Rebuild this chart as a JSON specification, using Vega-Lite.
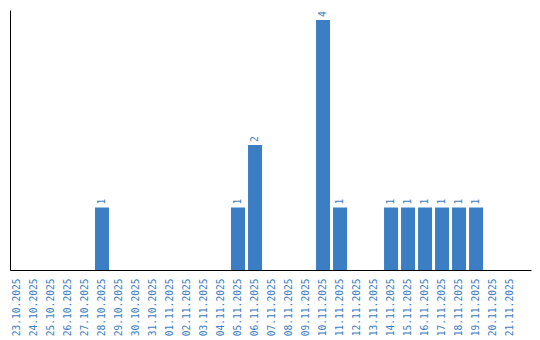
{
  "$schema": "https://vega.github.io/schema/vega-lite/v6.json",
  "width": 521,
  "height": 260,
  "autosize": {"type": "none"},
  "padding": {"left": 10, "top": 10, "right": 9, "bottom": 70},
  "background": "white",
  "config": {"view": {"stroke": null}},
  "data": {"values": [
    {"date": "23.10.2025", "count": 0},
    {"date": "24.10.2025", "count": 0},
    {"date": "25.10.2025", "count": 0},
    {"date": "26.10.2025", "count": 0},
    {"date": "27.10.2025", "count": 0},
    {"date": "28.10.2025", "count": 1},
    {"date": "29.10.2025", "count": 0},
    {"date": "30.10.2025", "count": 0},
    {"date": "31.10.2025", "count": 0},
    {"date": "01.11.2025", "count": 0},
    {"date": "02.11.2025", "count": 0},
    {"date": "03.11.2025", "count": 0},
    {"date": "04.11.2025", "count": 0},
    {"date": "05.11.2025", "count": 1},
    {"date": "06.11.2025", "count": 2},
    {"date": "07.11.2025", "count": 0},
    {"date": "08.11.2025", "count": 0},
    {"date": "09.11.2025", "count": 0},
    {"date": "10.11.2025", "count": 4},
    {"date": "11.11.2025", "count": 1},
    {"date": "12.11.2025", "count": 0},
    {"date": "13.11.2025", "count": 0},
    {"date": "14.11.2025", "count": 1},
    {"date": "15.11.2025", "count": 1},
    {"date": "16.11.2025", "count": 1},
    {"date": "17.11.2025", "count": 1},
    {"date": "18.11.2025", "count": 1},
    {"date": "19.11.2025", "count": 1},
    {"date": "20.11.2025", "count": 0},
    {"date": "21.11.2025", "count": 0}
  ]},
  "encoding": {
    "x": {
      "field": "date", "type": "nominal", "sort": null,
      "scale": {"paddingInner": 0.176, "paddingOuter": 0.41, "align": 0},
      "axis": {
        "title": null, "labelAngle": -90, "labelAlign": "right", "labelBaseline": "middle",
        "ticks": false, "labelPadding": 8, "domainColor": "black", "domainWidth": 1,
        "labelFont": "DejaVu Sans Mono", "labelFontSize": 9.6, "labelColor": "#3b7dc3", "grid": false
      }
    },
    "y": {
      "field": "count", "type": "quantitative",
      "scale": {"domain": [0, 4.16], "nice": false},
      "axis": {"title": null, "labels": false, "ticks": false, "grid": false, "domainColor": "black", "domainWidth": 1}
    }
  },
  "layer": [
    {"mark": {"type": "bar", "color": "#3b7ec3"}},
    {
      "transform": [{"filter": "datum.count > 0"}],
      "mark": {"type": "text", "angle": -90, "align": "left", "baseline": "middle", "dx": 3, "font": "DejaVu Sans Mono", "fontSize": 9.6, "color": "#3b7dc3"},
      "encoding": {"text": {"field": "count", "type": "quantitative"}}
    }
  ]
}
